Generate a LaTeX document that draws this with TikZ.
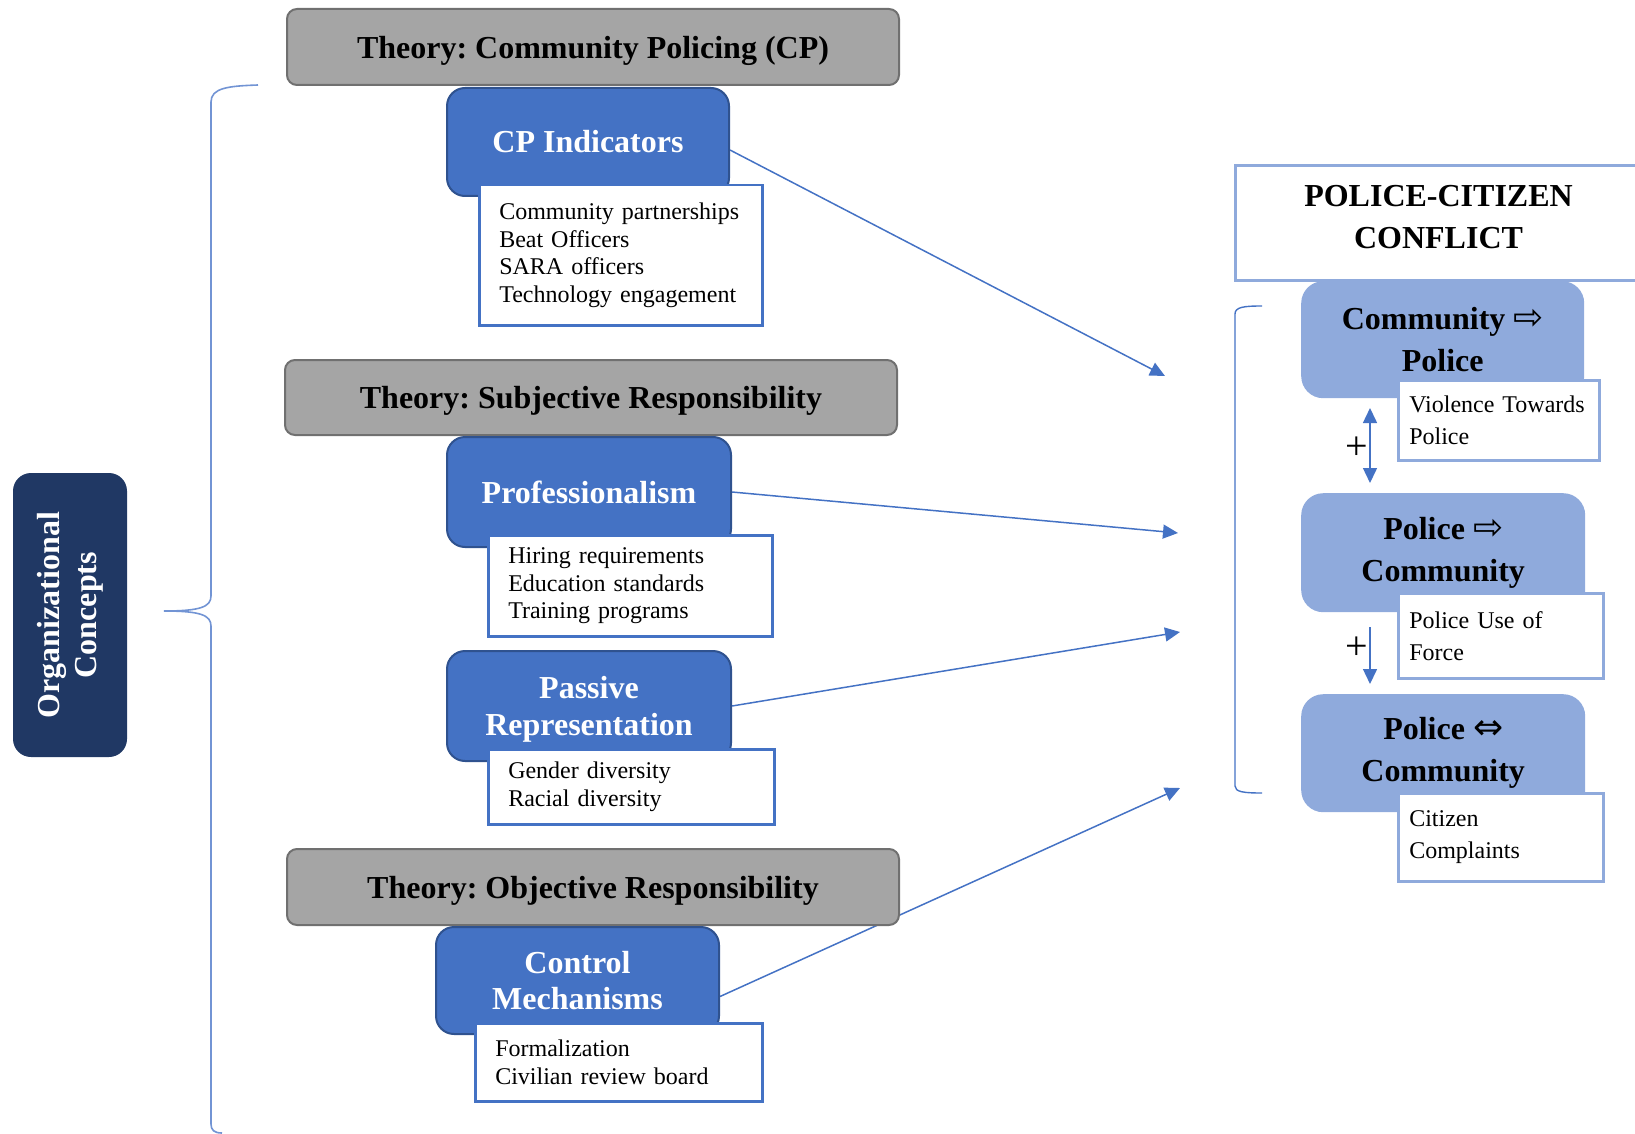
\documentclass[tikz,border=0pt]{standalone}
\usepackage{fontspec}
\setmainfont{Liberation Serif}
\newfontfamily\symfont{DejaVu Sans}
\usetikzlibrary{arrows.meta}
\definecolor{gfill}{HTML}{A5A5A5}
\definecolor{gline}{HTML}{707070}
\definecolor{bfill}{HTML}{4472C4}
\definecolor{bline}{HTML}{2F528F}
\definecolor{lfill}{HTML}{8FAADC}
\definecolor{navy}{HTML}{203864}
\definecolor{brk}{HTML}{7294D4}
\pgfdeclarelayer{bg}
\pgfsetlayers{bg,main}
\frenchspacing
\begin{document}
\begin{tikzpicture}[x=1pt,y=-1pt,
 theory/.style={draw=gline, fill=gfill, line width=2pt, rounded corners=10pt, anchor=north west, inner sep=0pt, align=center, text depth=0pt, font=\fontsize{32}{37}\selectfont\bfseries},
 bluebox/.style={draw=bline, fill=bfill, line width=2pt, rounded corners=18pt, anchor=north west, inner sep=0pt, align=center, text=white, font=\fontsize{32}{36.5}\selectfont\bfseries},
 subbox/.style={draw=bfill, fill=white, line width=2.5pt, anchor=north west, inner xsep=20pt, inner ysep=0pt, align=left, font=\fontsize{24}{27.5}\selectfont},
 rbox/.style={fill=lfill, rounded corners=22pt, anchor=north west, inner sep=0pt, align=center, font=\fontsize{32}{42}\selectfont\bfseries},
 rsub/.style={draw=lfill, fill=white, line width=2.5pt, anchor=north west, inner xsep=11pt, inner ysep=0pt, align=left, font=\fontsize{24}{32}\selectfont},
 conn/.style={draw=bfill, line width=1.5pt, -{Triangle[length=15pt,width=14pt]}},
 dconn/.style={draw=bfill, line width=1.5pt, {Triangle[length=15pt,width=14pt]}-{Triangle[length=15pt,width=14pt]}},
 brace/.style={draw=brk, line width=1.6pt},
 plus/.style={inner sep=0pt, font=\fontsize{40}{40}\selectfont},
]
\useasboundingbox (0,0) rectangle (1635,1134);
\clip (0,0) rectangle (1635,1134);

% left organizational box
\node[fill=navy, rounded corners=18pt, rotate=90, minimum width=284pt, minimum height=114pt, inner sep=0pt, align=center, text=white, font=\fontsize{32}{37}\selectfont\bfseries] (org) at (70,615) {Organizational\\Concepts};

% left curly brace
\draw[brace] (258,85) .. controls (228,86) and (211,88) .. (211,102) -- (211,596) .. controls (211,607) and (200,611) .. (164,611) .. controls (200,611) and (211,615) .. (211,626) -- (211,1124) .. controls (211,1130) and (214,1133) .. (222,1133);

% theory boxes
\node[theory, minimum width=612pt, minimum height=76pt] (t1) at (286,8) {Theory: Community Policing (CP)};
\node[theory, minimum width=612pt, minimum height=75pt] (t2) at (284,359) {Theory: Subjective Responsibility};
\node[theory, minimum width=612pt, minimum height=76pt] (t3) at (286,848) {Theory: Objective Responsibility};

% blue boxes
\node[bluebox, minimum width=282pt, minimum height=108pt] (cp) at (446,87) {CP Indicators};
\node[bluebox, minimum width=284pt, minimum height=110pt] (prof) at (446,436) {Professionalism};
\node[bluebox, minimum width=284pt, minimum height=110pt, text depth=0pt] (pass) at (446,650) {Passive\\Representation};
\node[bluebox, minimum width=283pt, minimum height=107pt] (ctrl) at (435,926) {Control\\Mechanisms};

% sub boxes
\node[subbox, minimum width=283pt, minimum height=140pt, text width=243pt] (cps) at (478,184) {\mbox{Community partnerships}\\Beat Officers\\SARA officers\\\mbox{Technology engagement}};
\node[subbox, minimum width=284pt, minimum height=101pt, text width=244pt] (profs) at (487,534) {Hiring requirements\\Education standards\\Training programs};
\node[subbox, minimum width=286pt, minimum height=75pt, text width=246pt] (passs) at (487,748) {Gender diversity\\Racial diversity};
\node[subbox, minimum width=287pt, minimum height=78pt, text width=247pt] (ctrls) at (474,1022) {Formalization\\Civilian review board};

% right side
\node[draw=lfill, line width=3pt, fill=white, anchor=north west, minimum width=406pt, minimum height=115pt, inner sep=0pt, align=center, text depth=13pt, font=\fontsize{32}{42}\selectfont\bfseries] (pcc) at (1234,164) {POLICE-CITIZEN\\CONFLICT};

\draw[draw=bfill, line width=1.4pt] (1262,306) .. controls (1244,306) and (1235,307) .. (1235,314) -- (1235,786) .. controls (1235,792) and (1244,793) .. (1262,793);

\node[rbox, minimum width=283pt, minimum height=117pt] (r1) at (1301,281) {Community {\symfont\mdseries\fontsize{36}{36}\selectfont ⇨}\\Police};
\node[rsub, minimum width=201pt, minimum height=80pt, text width=179pt] (r1s) at (1397,379) {\mbox{Violence Towards}\\Police};
\node[rbox, minimum width=284pt, minimum height=119pt] (r2) at (1301,493) {Police {\symfont\mdseries\fontsize{36}{36}\selectfont ⇨}\\Community};
\node[rsub, minimum width=205pt, minimum height=85pt, text width=183pt] (r2s) at (1397,592) {Police Use of\\Force};
\node[rbox, minimum width=284pt, minimum height=118pt] (r3) at (1301,694) {Police {\symfont\mdseries\fontsize{36}{36}\selectfont ⇔}\\Community};
\node[rsub, minimum width=205pt, minimum height=88pt, text width=183pt] (r3s) at (1397,792) {Citizen\\Complaints};

\coordinate (a1) at (1370,408);
\coordinate (a2) at (1370,483);
\coordinate (a3) at (1370,627);
\coordinate (a4) at (1370,684);
\draw[dconn] (a1) -- (a2);
\draw[conn] (a3) -- (a4);
\node[plus] (p1) at (1357,448) {+};
\node[plus] (p2) at (1357,648) {+};

% connectors
\coordinate (e1) at (1165,376);
\coordinate (e2) at (1178,533);
\coordinate (e3) at (1180,632);
\coordinate (e4) at (1180,788);
\begin{pgfonlayer}{bg}
\draw[conn] ([yshift=-8pt]cp.east) -- (e1);
\draw[conn] (prof.east) -- (e2);
\draw[conn] (pass.east) -- (e3);
\draw[conn] ([yshift=-16pt]ctrl.east) -- (e4);
\end{pgfonlayer}
\end{tikzpicture}
\end{document}
